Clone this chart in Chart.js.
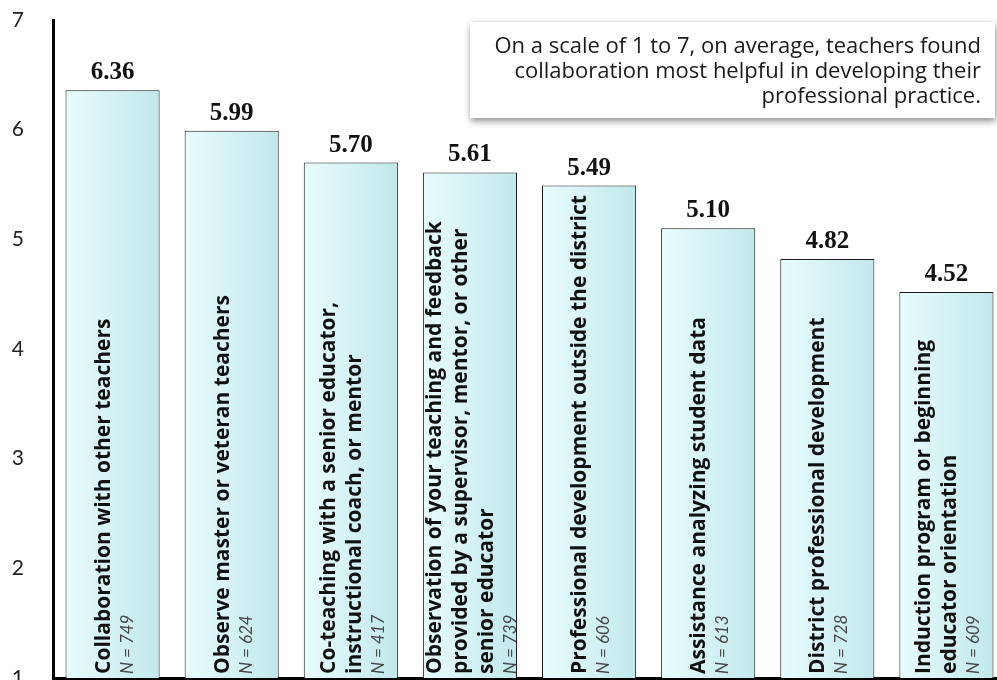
<!DOCTYPE html>
<html>
<head>
<meta charset="utf-8">
<script src="https://cdn.jsdelivr.net/npm/chart.js@4.4.1/dist/chart.umd.min.js"></script>
<style>
  html, body { margin: 0; padding: 0; background: #ffffff; overflow: hidden; }
  #wrap { width: 1006px; height: 680px; position: relative; }
</style>
</head>
<body>
<div id="wrap"><canvas id="c" width="1006" height="680"></canvas></div>
<script>
// Practices rated by teachers, mean helpfulness on a 1–7 scale
const categoryLines = [
  ["Collaboration with other teachers"],
  ["Observe master or veteran teachers"],
  ["Co-teaching with a senior educator,", "instructional coach, or mentor"],
  ["Observation of your teaching and feedback", "provided by a supervisor, mentor, or other", "senior educator"],
  ["Professional development outside the district"],
  ["Assistance analyzing student data"],
  ["District professional development"],
  ["Induction program or beginning", "educator orientation"]
];
const meanScores = [6.36, 5.99, 5.70, 5.61, 5.49, 5.10, 4.82, 4.52];
const respondents = [749, 624, 417, 739, 606, 613, 728, 609];
const yTicks = [1, 2, 3, 4, 5, 6, 7];
const noteLines = [
  "On a scale of 1 to 7, on average, teachers found",
  "collaboration most helpful in developing their",
  "professional practice."
];

const BAR_PCT = 0.79;
const LABEL_FONT = 'bold 21px "Open Sans"';
const N_FONT = 'italic 17px "Lato"';

// Horizontal pale-cyan gradient for each bar, computed from the category scale
function barGradient(ctx) {
  const chart = ctx.chart;
  const xs = chart.scales.x;
  const fallback = '#d6f3f5';
  if (!xs || ctx.dataIndex === undefined) return fallback;
  const w = (xs.width / meanScores.length) * BAR_PCT;
  const cx = xs.getPixelForValue(ctx.dataIndex);
  if (!isFinite(cx) || !isFinite(w) || w <= 0) return fallback;
  const g = chart.ctx.createLinearGradient(cx - w / 2, 0, cx + w / 2, 0);
  g.addColorStop(0, '#e9fcfe');
  g.addColorStop(1, '#c1e8eb');
  return g;
}

// Value above each bar, plus rotated category text and N inside the bar
const barText = {
  id: 'barText',
  afterDatasetsDraw(chart) {
    const ctx = chart.ctx;
    const meta = chart.getDatasetMeta(0);
    const bottom = chart.chartArea.bottom;
    meta.data.forEach((bar, i) => {
      ctx.save();
      ctx.fillStyle = '#111';
      ctx.font = 'bold 25px "Liberation Serif"';
      ctx.textAlign = 'center';
      ctx.textBaseline = 'alphabetic';
      ctx.fillText(meanScores[i].toFixed(2), bar.x, bar.y - 11);
      ctx.restore();

      const lines = categoryLines[i];
      const asc = 17, lineH = 26, nGap = 23;
      const blockH = asc + (lines.length - 1) * lineH + nGap;
      const top = bar.x - blockH / 2;
      ctx.save();
      ctx.translate(0, bottom - 4);
      ctx.rotate(-Math.PI / 2);
      ctx.textAlign = 'left';
      ctx.textBaseline = 'alphabetic';
      ctx.fillStyle = '#111';
      ctx.font = LABEL_FONT;
      lines.forEach((ln, k) => {
        ctx.fillText(ln, 0, top + asc + k * lineH);
      });
      ctx.font = N_FONT;
      ctx.fillStyle = '#484848';
      ctx.fillText('N = ' + respondents[i], 0, top + asc + (lines.length - 1) * lineH + nGap);
      ctx.restore();
    });
  }
};

// Callout box in the upper right
const noteBox = {
  id: 'noteBox',
  afterDraw(chart) {
    const ctx = chart.ctx;
    const x = 470, y = 22, w = 525, h = 96;
    ctx.save();
    ctx.shadowColor = 'rgba(0,0,0,0.45)';
    ctx.shadowBlur = 7;
    ctx.shadowOffsetX = 1;
    ctx.shadowOffsetY = 3;
    ctx.fillStyle = '#ffffff';
    ctx.fillRect(x, y, w, h);
    ctx.restore();
    ctx.save();
    ctx.fillStyle = '#1a1a1a';
    ctx.font = '22px "Open Sans"';
    ctx.textAlign = 'right';
    ctx.textBaseline = 'alphabetic';
    noteLines.forEach((t, k) => ctx.fillText(t, 981, 53 + k * 25));
    ctx.restore();
  }
};

new Chart(document.getElementById('c'), {
  type: 'bar',
  data: {
    labels: categoryLines.map(l => l.join(' ')),
    datasets: [{
      data: meanScores,
      backgroundColor: barGradient,
      borderColor: '#1a1a1a',
      borderWidth: 1,
      borderSkipped: 'start',
      barPercentage: BAR_PCT,
      categoryPercentage: 1
    }]
  },
  options: {
    responsive: false,
    animation: false,
    layout: { padding: { top: 20, bottom: 2, left: 0, right: 0 } },
    plugins: { legend: { display: false }, tooltip: { enabled: false } },
    scales: {
      x: {
        afterFit(scale) { scale.height = 0; scale.paddingBottom = 0; scale.paddingTop = 0; },
        grid: { display: false },
        ticks: { display: false },
        border: { display: true, color: '#000', width: 3 }
      },
      y: {
        min: yTicks[0],
        max: yTicks[yTicks.length - 1],
        afterBuildTicks(scale) { scale.ticks = yTicks.map(v => ({ value: v })); },
        afterFit(scale) { scale.width = 53; scale.paddingTop = 0; scale.paddingBottom = 0; },
        grid: { display: false },
        border: { display: true, color: '#000', width: 3 },
        ticks: {
          padding: 21,
          color: '#222',
          font: { family: 'Lato', size: 21 }
        }
      }
    }
  },
  plugins: [barText, noteBox]
});
</script>
</body>
</html>
